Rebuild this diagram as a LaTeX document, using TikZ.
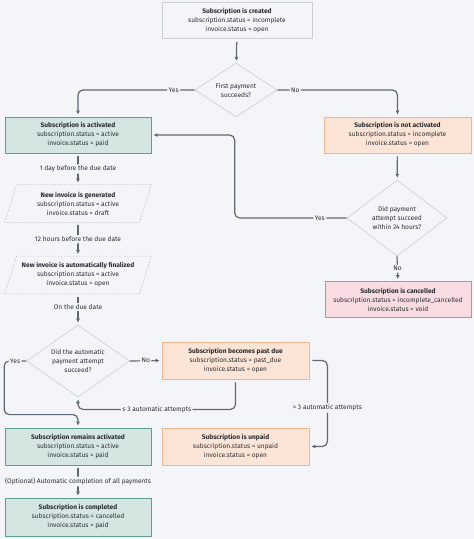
\documentclass[tikz,border=0pt]{standalone}
\usepackage{fontspec}
\setmainfont{Fira Sans}
\usetikzlibrary{shapes.geometric,arrows.meta}

\definecolor{bgcol}{HTML}{F3F5F8}
\definecolor{greyline}{HTML}{C9CFD6}
\definecolor{dotline}{HTML}{BCC3CA}
\definecolor{tealline}{HTML}{5E9E8F}
\definecolor{tealfill}{HTML}{D3E6E2}
\definecolor{orangeline}{HTML}{EFB58C}
\definecolor{orangefill}{HTML}{FCE5D6}
\definecolor{redline}{HTML}{D9838E}
\definecolor{redfill}{HTML}{F9DCE1}
\definecolor{arrowcol}{HTML}{5F6974}
\definecolor{textcol}{HTML}{2A2E32}

\tikzset{
  statebox/.style={rectangle, draw, line width=0.8pt, minimum width=146pt,
    minimum height=36pt, inner sep=0pt, align=center, text=textcol,
    font=\fontsize{6.6}{9}\selectfont},
  neutral/.style={statebox, draw=greyline, fill=bgcol, line width=0.6pt},
  okbox/.style={statebox, draw=tealline, fill=tealfill},
  warnbox/.style={statebox, draw=orangeline, fill=orangefill},
  failbox/.style={statebox, draw=redline, fill=redfill},
  invoicebox/.style={statebox, draw=none, minimum width=134pt, minimum height=37pt},
  invline/.style={draw=dotline, line width=0.6pt, dash pattern=on 1.5pt off 1.5pt},
  question/.style={diamond, draw=greyline, fill=bgcol, line width=0.6pt,
    inner sep=0pt, align=center, text=textcol, font=\fontsize{6.6}{9}\selectfont},
  flow/.style={draw=arrowcol, line width=1.2pt, rounded corners=5pt,
    shorten <=3pt, shorten >=2pt, -{Latex[length=4pt,width=4pt]}},
  lbl/.style={fill=bgcol, inner sep=1.5pt, text=textcol,
    font=\fontsize{6.6}{9}\selectfont},
}

\begin{document}
\begin{tikzpicture}[x=1pt, y=-1pt]

\useasboundingbox[fill=bgcol] (0,0) rectangle (474,539);

% states
\node[neutral, minimum width=150pt] (created) at (237,20.5)
  {\textbf{Subscription is created}\\subscription.status = incomplete\\invoice.status = open};
\node[okbox] (act) at (78,135)
  {\textbf{Subscription is activated}\\subscription.status = active\\invoice.status = paid};
\node[warnbox, minimum width=147pt] (notact) at (397.5,135)
  {\textbf{Subscription is not activated}\\subscription.status = incomplete\\invoice.status = open};
\node[failbox] (canc) at (398,299.5)
  {\textbf{Subscription is cancelled}\\subscription.status = incomplete\_cancelled\\invoice.status = void};
\node[warnbox, minimum width=147pt, minimum height=37pt] (past) at (235.5,360.5)
  {\textbf{Subscription becomes past due}\\subscription.status = past\_due\\invoice.status = open};
\node[warnbox, minimum width=147pt, minimum height=37pt] (unpaid) at (235.5,446.5)
  {\textbf{Subscription is unpaid}\\subscription.status = unpaid\\invoice.status = open};
\node[okbox, minimum height=37pt] (remain) at (78,446.5)
  {\textbf{Subscription remains activated}\\subscription.status = active\\invoice.status = paid};
\node[okbox, minimum height=38pt] (done) at (78,517)
  {\textbf{Subscription is completed}\\subscription.status = cancelled\\invoice.status = paid};

% invoices
\node[invoicebox] (gen) at (78,203.5)
  {\textbf{New invoice is generated}\\subscription.status = active\\invoice.status = draft};
\node[invoicebox] (fin) at (78,275)
  {\textbf{New invoice is automatically finalized}\\subscription.status = active\\invoice.status = open};
\draw[invline] ([xshift=-6pt]gen.south west) -- ([xshift=6pt]gen.north west)
  -- ([xshift=6pt]gen.north east) -- ([xshift=-6pt]gen.south east) -- cycle;
\draw[invline] ([xshift=-6pt]fin.south west) -- ([xshift=6pt]fin.north west)
  -- ([xshift=6pt]fin.north east) -- ([xshift=-6pt]fin.south east) -- cycle;

% questions
\node[question, minimum width=82pt, minimum height=54pt, shape aspect=1.5] (q1) at (236,90)
  {First payment\\succeeds?};
\node[question, minimum width=100pt, minimum height=76pt, shape aspect=1.3] (q2) at (397,218)
  {Did payment\\attempt succeed\\within 24 hours?};
\node[question, minimum width=103pt, minimum height=72pt, shape aspect=1.4] (q3) at (78,361)
  {Did the automatic\\payment attempt\\succeed?};

% connectors
\draw[flow] (created) -- (q1);
\draw[flow, shorten <=0pt] (q1.west) -| node[lbl, pos=0.09]{Yes} (act.north);
\draw[flow, shorten <=0pt] (q1.east) -| node[lbl, pos=0.075]{No} (notact.north);
\draw[flow] (notact) -- (q2);
\draw[flow, shorten <=0pt] (q2.west) -- node[lbl, pos=0.24]{Yes} ++(-112,0) |- (act.east);
\draw[flow, shorten <=0pt] (q2.south) -- node[lbl]{No} (canc.north);

\draw[flow] (act.south) -- node[lbl]{1 day before the due date} (gen.north);
\draw[flow] (gen.south) -- node[lbl]{12 hours before the due date} (fin.north);
\draw[flow] (fin.south) -- node[lbl, pos=0.42]{On the due date} (q3.north);

\draw[flow, shorten <=0pt] (q3.west) -- node[lbl]{Yes} ++(-22,0) |- ([yshift=13pt]remain.north) -- (remain.north);
\draw[flow, shorten <=0pt] (q3.east) -- node[lbl]{No} (past.west);
\draw[flow] (past.south) -- ++(0,30) -| node[lbl, pos=0.25]{≤ 3 automatic attempts} (q3.south);
\draw[flow] (past.east) -- ++(18,0) |- node[lbl, pos=0.275]{> 3 automatic attempts} (unpaid.east);

\draw[flow] (remain.south) -- node[lbl]{(Optional) Automatic completion of all payments} (done.north);

\end{tikzpicture}
\end{document}
